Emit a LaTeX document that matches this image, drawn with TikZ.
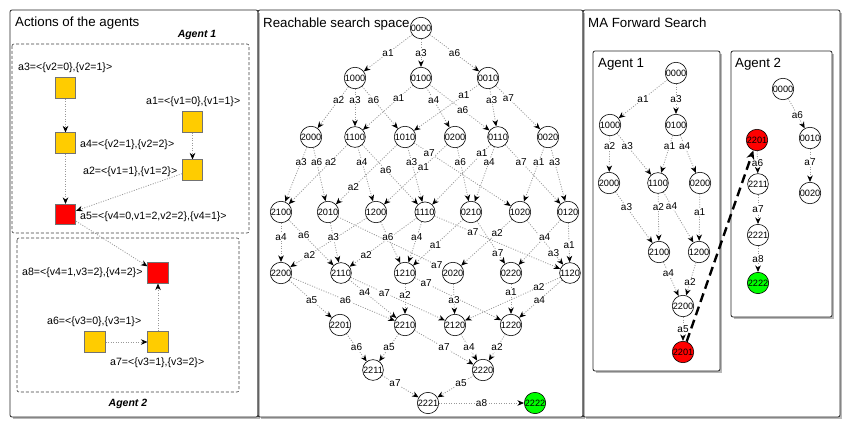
\documentclass[tikz,border=0pt]{standalone}
\usepackage{fontspec}
\setmainfont{Liberation Sans}
\usetikzlibrary{arrows.meta,calc}
\pgfdeclarelayer{bg}
\pgfdeclarelayer{lines}
\pgfsetlayers{bg,lines,main}
\definecolor{gold}{RGB}{255,204,0}
\definecolor{lgreen}{RGB}{0,255,0}
\tikzset{
 st/.style={circle,draw=black,line width=0.6pt,fill=white,minimum size=20pt,inner sep=0pt,font=\fontsize{9.2}{9.5}\selectfont},
 ed/.style={draw=gray!80,line width=0.8pt,dash pattern=on 1pt off 1.5pt,-{Stealth[length=6.5pt,width=5.5pt,inset=2pt,color=black]}},
 lbl/.style={fill=white,inner sep=0.6pt,font=\fontsize{10}{11}\selectfont},
 act/.style={rectangle,draw=black!55,line width=0.6pt,fill=gold,minimum size=20.5pt,inner sep=0pt},
 actr/.style={act,fill=red},
 atxt/.style={anchor=west,inner sep=0pt,font=\fontsize{10.6}{12}\selectfont},
 panel/.style={draw=black!85,line width=0.8pt,rounded corners=2pt},
 pshadow/.style={draw=gray!55,line width=1.6pt},
 ttl/.style={anchor=base west,inner sep=0pt,font=\fontsize{13.3}{15}\selectfont},
 agt/.style={inner sep=0pt,font=\fontsize{10.5}{12}\selectfont\bfseries\itshape},
 dbox/.style={draw=black!75,line width=0.6pt,dash pattern=on 3pt off 2pt,rounded corners=2pt},
 bigarrow/.style={draw=black,line width=2.4pt,dash pattern=on 9pt off 5pt,-{Stealth[length=9pt,width=8pt]}},
}
\newcommand\edg[4][0.5]{%
 \begin{pgfonlayer}{lines}\draw[ed] (#2) -- (#3);\end{pgfonlayer}%
 \path (#2.center) -- node[lbl,pos=#1]{#4} (#3.center);}
\newcommand\pbox[4]{%
 \draw[pshadow] (#3+1.2,#2+3) -- (#3+1.2,#4+1.2) -- (#1+3,#4+1.2);
 \draw[panel] (#1,#2) rectangle (#3,#4);}
\begin{document}
\begin{tikzpicture}[x=1pt,y=-1pt]
\useasboundingbox (0,0) rectangle (851,428);
\begin{pgfonlayer}{bg}
\fill[white] (0,0) rectangle (851,428);
\pbox{10}{10}{258}{417}
\pbox{258}{10}{583}{417}
\pbox{583}{10}{840}{417}
\pbox{593}{51}{720}{371}
\pbox{731}{51}{832}{317}
\draw[dbox] (12,44) rectangle (249,233);
\draw[dbox] (17,238) rectangle (239,392);
\end{pgfonlayer}

% titles
\node[ttl] (t1) at (15,27) {Actions of the agents};
\node[ttl] (t2) at (263,28) {Reachable search space};
\node[ttl] (t3) at (588,28) {MA Forward Search};
\node[ttl] (t4) at (598,67) {Agent 1};
\node[ttl] (t5) at (735,67) {Agent 2};
\node[agt] (g1) at (197,35) {Agent 1};
\node[agt] (g2) at (128,404) {Agent 2};

% ---------- left panel ----------
\node[act] (A3) at (65.5,88) {};
\node[act] (A4) at (65.5,143) {};
\node[act] (A1) at (192.5,122) {};
\node[act] (A2) at (192.5,170) {};
\node[actr] (A5) at (65.5,214.5) {};
\node[actr] (A8) at (158,273) {};
\node[act] (A6) at (95,342) {};
\node[act] (A7) at (158,342) {};
\node[atxt] (L3) at (18,68) {a3=<\{v2=0\},\{v2=1\}>};
\node[atxt] (L1) at (146,102) {a1=<\{v1=0\},\{v1=1\}>};
\node[atxt] (L4) at (80,145) {a4=<\{v2=1\},\{v2=2\}>};
\node[atxt] (L2) at (83,172) {a2=<\{v1=1\},\{v1=2\}>};
\node[atxt] (L5) at (80,217) {a5=<\{v4=0,v1=2,v2=2\},\{v4=1\}>};
\node[atxt] (L8) at (22,273) {a8=<\{v4=1,v3=2\},\{v4=2\}>};
\node[atxt] (L6) at (47,322) {a6=<\{v3=0\},\{v3=1\}>};
\node[atxt] (L7) at (110,363) {a7=<\{v3=1\},\{v3=2\}>};
\begin{pgfonlayer}{lines}
\draw[ed] (A3) -- (A4);
\draw[ed] (A4) -- (A5);
\draw[ed] (A1) -- (A2);
\draw[ed] (A2) -- (A5);
\draw[ed] (A5) -- (A8);
\draw[ed] (A7) -- (A8);
\draw[ed] (A6) -- (A7);
\end{pgfonlayer}

% ---------- middle panel ----------
\node[st] (m0000) at (421,28) {0000};
\node[st] (m1000) at (355,78) {1000};
\node[st] (m0100) at (421,78) {0100};
\node[st] (m0010) at (488,78) {0010};
\node[st] (m2000) at (311,137) {2000};
\node[st] (m1100) at (355,137) {1100};
\node[st] (m1010) at (405,137) {1010};
\node[st] (m0200) at (455,137) {0200};
\node[st] (m0110) at (498,137) {0110};
\node[st] (m0020) at (548,137) {0020};
\node[st] (m2100) at (281,212) {2100};
\node[st] (m2010) at (328,212) {2010};
\node[st] (m1200) at (376,212) {1200};
\node[st] (m1110) at (425,212) {1110};
\node[st] (m0210) at (471,212) {0210};
\node[st] (m1020) at (520,212) {1020};
\node[st] (m0120) at (568,212) {0120};
\node[st] (m2200) at (281,273) {2200};
\node[st] (m2110) at (341,273) {2110};
\node[st] (m1210) at (405,273) {1210};
\node[st] (m2020) at (453,273) {2020};
\node[st] (m0220) at (511,273) {0220};
\node[st] (m1120) at (570,273) {1120};
\node[st] (m2201) at (340,325) {2201};
\node[st] (m2210) at (405,325) {2210};
\node[st] (m2120) at (455,325) {2120};
\node[st] (m1220) at (511,325) {1220};
\node[st] (m2211) at (373,370) {2211};
\node[st] (m2220) at (483,370) {2220};
\node[st] (m2221) at (428,403) {2221};
\node[st,fill=lgreen] (m2222) at (535,403) {2222};

\edg{m0000}{m1000}{a1}
\edg{m0000}{m0100}{a3}
\edg{m0000}{m0010}{a6}
\edg[.37]{m1000}{m2000}{a2}
\edg[.37]{m1000}{m1100}{a3}
\edg[.37]{m1000}{m1010}{a6}
\edg[.34]{m0100}{m1100}{a1}
\edg[.37]{m0100}{m0200}{a4}
\edg[.54]{m0100}{m0110}{a6}
\edg[.29]{m0010}{m1010}{a1}
\edg[.37]{m0010}{m0110}{a3}
\edg[.34]{m0010}{m0020}{a7}
\edg[.33]{m2000}{m2100}{a3}
\edg[.33]{m2000}{m2010}{a6}
\edg[.33]{m1100}{m2100}{a2}
\edg[.33]{m1100}{m1200}{a4}
\edg[.44]{m1100}{m1110}{a6}
\edg[.67]{m1010}{m2010}{a2}
\edg[.33]{m1010}{m1110}{a3}
\edg[.21]{m1010}{m1020}{a7}
\edg[.40]{m0200}{m1200}{a1}
\edg[.33]{m0200}{m0210}{a6}
\edg[.22]{m0110}{m1110}{a1}
\edg[.33]{m0110}{m0210}{a4}
\edg[.33]{m0110}{m0120}{a7}
\edg[.33]{m0020}{m1020}{a1}
\edg[.33]{m0020}{m0120}{a3}
\edg[.41]{m2100}{m2200}{a4}
\edg[.38]{m2100}{m2110}{a6}
\edg[.41]{m2010}{m2110}{a3}
\edg[.87]{m2010}{m2020}{a7}
\edg[.70]{m1200}{m2200}{a2}
\edg[.41]{m1200}{m1210}{a6}
\edg[.70]{m1110}{m2110}{a2}
\edg[.41]{m1110}{m1210}{a4}
\edg[.33]{m1110}{m1120}{a7}
\edg[.54]{m0210}{m1210}{a1}
\edg[.67]{m0210}{m0220}{a7}
\edg[.34]{m1020}{m2020}{a2}
\edg[.67]{m1020}{m1120}{a3}
\edg[.54]{m0120}{m1120}{a1}
\edg[.41]{m0120}{m0220}{a4}
\edg[.52]{m2200}{m2201}{a5}
\edg[.52]{m2200}{m2210}{a6}
\edg[.37]{m2110}{m2210}{a4}
\edg[.38]{m2110}{m2120}{a7}
\edg[.42]{m1210}{m2210}{a2}
\edg[.20]{m1210}{m1220}{a7}
\edg[.52]{m2020}{m2120}{a3}
\edg[.37]{m0220}{m1220}{a1}
\edg[.27]{m1120}{m2120}{a2}
\edg[.52]{m1120}{m1220}{a4}
\edg{m2201}{m2211}{a6}
\edg{m2210}{m2211}{a5}
\edg{m2210}{m2220}{a7}
\edg{m2120}{m2220}{a4}
\edg{m1220}{m2220}{a2}
\edg[.4]{m2211}{m2221}{a7}
\edg[.4]{m2220}{m2221}{a5}
\edg{m2221}{m2222}{a8}

% ---------- right panel: agent 1 ----------
\node[st] (p0000) at (676,73) {0000};
\node[st] (p1000) at (610,125) {1000};
\node[st] (p0100) at (676,125) {0100};
\node[st] (p2000) at (609,183) {2000};
\node[st] (p1100) at (658,183) {1100};
\node[st] (p0200) at (700,183) {0200};
\node[st] (p2100) at (659,252) {2100};
\node[st] (p1200) at (699,252) {1200};
\node[st] (p2200) at (683,306) {2200};
\node[st,fill=red] (p2201) at (683,352) {2201};
\edg{p0000}{p1000}{a1}
\edg{p0000}{p0100}{a3}
\edg[.36]{p1000}{p2000}{a2}
\edg[.36]{p1000}{p1100}{a3}
\edg[.36]{p0100}{p1100}{a1}
\edg[.36]{p0100}{p0200}{a4}
\edg[.35]{p2000}{p2100}{a3}
\edg[.35]{p1100}{p2100}{a2}
\edg[.33]{p1100}{p1200}{a4}
\edg[.42]{p0200}{p1200}{a1}
\edg[.39]{p2100}{p2200}{a4}
\edg[.56]{p1200}{p2200}{a2}
\edg{p2200}{p2201}{a5}

% ---------- right panel: agent 2 ----------
\node[st] (q0000) at (783,89) {0000};
\node[st] (q0010) at (810,138) {0010};
\node[st] (q0020) at (810,193) {0020};
\node[st,fill=red] (q2201) at (757,140) {2201};
\node[st] (q2211) at (758,184) {2211};
\node[st] (q2221) at (758,235) {2221};
\node[st,fill=lgreen] (q2222) at (758,283) {2222};
\edg[.53]{q0000}{q0010}{a6}
\edg[.44]{q0010}{q0020}{a7}
\edg[.52]{q2201}{q2211}{a6}
\edg{q2211}{q2221}{a7}
\edg{q2221}{q2222}{a8}

\draw[bigarrow] (p2201) -- (q2201);
\end{tikzpicture}
\end{document}
